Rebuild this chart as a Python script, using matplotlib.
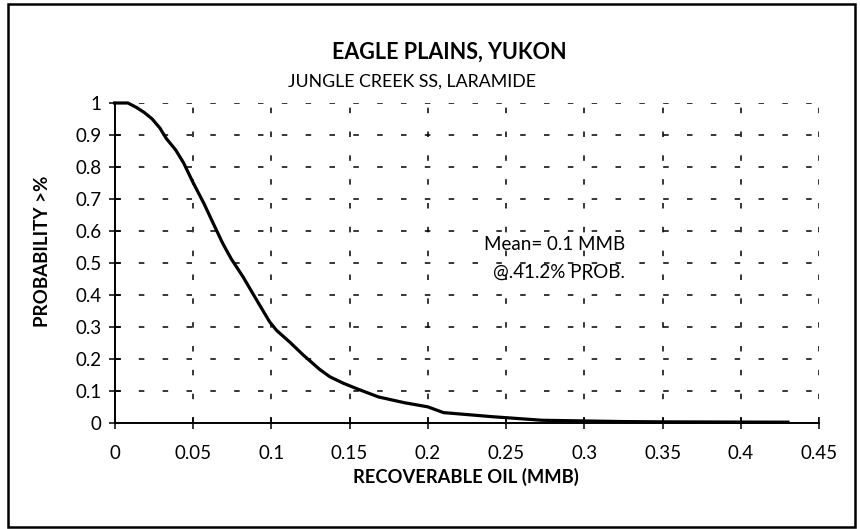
import matplotlib
matplotlib.use("Agg")
import matplotlib.pyplot as plt
from matplotlib.patches import Rectangle

# Datos (curva de excedencia)
oil = [0.0, 0.0085, 0.014, 0.019, 0.024, 0.029, 0.033, 0.039, 0.044, 0.050,
       0.057, 0.063, 0.069, 0.0745, 0.082, 0.0905, 0.099, 0.1035, 0.112,
       0.1205, 0.131, 0.1375, 0.146, 0.1556, 0.1685, 0.185, 0.200, 0.210,
       0.2416, 0.273, 0.324, 0.35, 0.43]
prob = [1.0, 1.0, 0.986, 0.970, 0.950, 0.921, 0.889, 0.853, 0.813, 0.752,
        0.686, 0.623, 0.561, 0.512, 0.456, 0.385, 0.315, 0.288, 0.251,
        0.211, 0.166, 0.143, 0.123, 0.104, 0.080, 0.062, 0.049, 0.031,
        0.018, 0.007, 0.003, 0.002, 0.001]

x_ticks = [0, 0.05, 0.1, 0.15, 0.2, 0.25, 0.3, 0.35, 0.4, 0.45]
x_labels = ["0", "0.05", "0.1", "0.15", "0.2", "0.25", "0.3", "0.35", "0.4", "0.45"]
y_ticks = [0, 0.1, 0.2, 0.3, 0.4, 0.5, 0.6, 0.7, 0.8, 0.9, 1]
y_labels = ["0", "0.1", "0.2", "0.3", "0.4", "0.5", "0.6", "0.7", "0.8", "0.9", "1"]

plt.rcParams["font.family"] = ["Lato", "DejaVu Sans"]

W, H = 860, 529
fig = plt.figure(figsize=(W / 100, H / 100), dpi=100)
fig.patch.set_facecolor("white")

ax = fig.add_axes([114.6 / W, 1 - 422.5 / H, (819.3 - 114.6) / W, (422.5 - 103) / H])

ax.plot(oil, prob, color="black", linewidth=2.3, clip_on=False, zorder=5,
        solid_joinstyle="round")

ax.set_xlim(0, 0.45)
ax.set_ylim(0, 1)
ax.set_xticks(x_ticks)
ax.set_xticklabels(x_labels)
ax.set_yticks(y_ticks)
ax.set_yticklabels(y_labels)

ax.grid(True, color="black", linestyle=(0, (3.6, 12)), linewidth=1.1)
ax.set_axisbelow(True)

for s in ["top", "right"]:
    ax.spines[s].set_visible(False)
for s in ["left", "bottom"]:
    ax.spines[s].set_linewidth(1.4)

ax.tick_params(axis="both", direction="inout", length=8.6, width=1.1,
               labelsize=13.5, colors="black")
ax.tick_params(axis="x", pad=12)
ax.tick_params(axis="y", pad=5)

# Títulos y etiquetas
fig.text(449 / W, 1 - 52 / H, "EAGLE PLAINS, YUKON", ha="center", va="center",
         fontsize=15.5, fontweight="bold")
fig.text(412 / W, 1 - 82 / H, "JUNGLE CREEK SS, LARAMIDE", ha="center", va="center",
         fontsize=12.8)
fig.text(466 / W, 1 - 477 / H, "RECOVERABLE OIL (MMB)", ha="center", va="center",
         fontsize=13.2, fontweight="bold")
fig.text(43 / W, 1 - 251 / H, "PROBABILITY >%", ha="center", va="center",
         rotation=90, fontsize=13.5, fontweight="bold")

fig.text(625 / W, 1 - 245 / H, "Mean= 0.1 MMB", ha="right", va="center", fontsize=13.5)
fig.text(625 / W, 1 - 272 / H, "@.41.2% PROB.", ha="right", va="center", fontsize=13.5)

# Marco exterior
fig.add_artist(Rectangle((8 / W, 1 - 527 / H), (855 - 8) / W, (527 - 4) / H,
                         transform=fig.transFigure, fill=False,
                         edgecolor="black", linewidth=1.8))

fig.savefig("out.png", dpi=100, facecolor="white")
